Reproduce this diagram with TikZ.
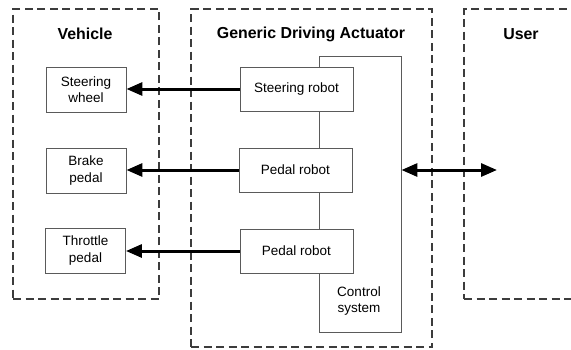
\documentclass[tikz,border=0pt]{standalone}
\usepackage{fontspec}
\setmainfont{Liberation Sans}
\usetikzlibrary{arrows.meta}

\definecolor{framegray}{HTML}{3C3C3C}
\definecolor{boxgray}{HTML}{5A5A5A}

\tikzset{
  group/.style={draw=framegray, line width=1.3pt, dash pattern=on 8pt off 4.5pt,
    minimum width=#1},
  title/.style={font=\fontsize{15.9}{18}\selectfont\bfseries, inner sep=0pt},
  part/.style={draw=boxgray, line width=0.9pt, fill=white, align=center,
    font=\fontsize{13.5}{16.5}\selectfont, inner sep=0pt,
    minimum width=#1, minimum height=44pt},
  part/.default=80pt,
  link/.style={line width=3pt, -{Triangle[length=16pt,width=13pt]}},
  duplex/.style={line width=3pt, {Triangle[length=16pt,width=13pt]}-{Triangle[length=16pt,width=13pt]}}
}

\begin{document}
\begin{tikzpicture}[x=1pt,y=-1pt]
  \useasboundingbox (0,0) rectangle (571,349);

  % outer groups
  \node[group=146pt, minimum height=290pt] (veh) at (86,154) {};
  \node[group=241pt, minimum height=338pt] (gda) at (311.5,178) {};
  \node[group=150pt, minimum height=290pt] (usr) at (539,154) {};

  \node[title] (vehT) at (85,34) {Vehicle};
  \node[title] (gdaT) at (311,34) {Generic Driving Actuator};
  \node[title] (usrT) at (521,34) {User};

  % control system column behind the robots
  \node[draw=boxgray, line width=0.9pt, minimum width=82pt, minimum height=276pt,
        inner sep=0pt] (ctrl) at (360,194) {};
  \node[align=center, font=\fontsize{13.5}{16.5}\selectfont, inner sep=0pt]
        (ctrlT) at (359,301) {Control\\system};

  % robots
  \node[part=113pt] (sr)  at (296.5,89)  {Steering robot};
  \node[part=113pt] (pr1) at (295.5,170) {Pedal robot};
  \node[part=113pt] (pr2) at (296.5,251) {Pedal robot};

  % vehicle controls
  \node[part, minimum height=45pt] (sw) at (86,89.5)   {Steering\\wheel};
  \node[part, minimum height=45pt] (bp) at (86,170.5)  {Brake\\pedal};
  \node[part, minimum height=45pt] (tp) at (85.5,250.5) {Throttle\\pedal};

  % actuation links
  \draw[link] (sr.west)  -- (sw.east |- sr.west);
  \draw[link] (pr1.west) -- (bp.east |- pr1.west);
  \draw[link] (pr2.west) -- (tp.east |- pr2.west);

  % user interface link
  \coordinate (uif) at (497,170);
  \draw[duplex] (ctrl.east |- uif) -- (uif);
\end{tikzpicture}
\end{document}
